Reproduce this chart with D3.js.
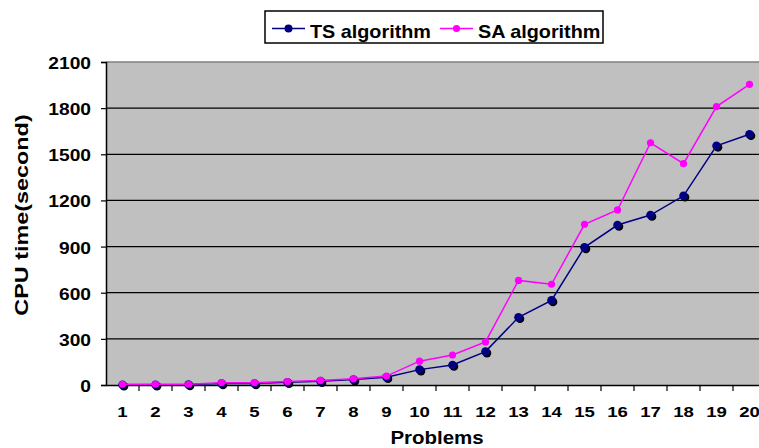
<!DOCTYPE html>
<html><head><meta charset="utf-8">
<script src="https://cdn.jsdelivr.net/npm/d3@7"></script>
<style>body{margin:0;background:#fff}svg{display:block;font-family:"Liberation Sans",Arial,sans-serif;font-weight:bold}</style>
</head><body>
<svg id="c" width="759" height="448"></svg>
<script>
const problems = ["1","2","3","4","5","6","7","8","9","10","11","12","13","14","15","16","17","18","19","20"];
const tsValues = [2,2,3,10,10,18,25,35,50,100,130,217,440,550,895,1040,1105,1230,1555,1630];
const saValues = [5,5,5,15,15,22,30,40,58,155,195,280,680,655,1045,1138,1575,1439,1810,1955];
const yTicks = [0,300,600,900,1200,1500,1800,2100];
const seriesNames = ["TS algorithm","SA algorithm"];

const svg = d3.select("#c");
const L=106,R=766,T=62,B=385;
const x = d3.scaleBand().domain(problems).range([L,R]);
const y = d3.scaleLinear().domain([0,2100]).range([B,T]);

svg.append("rect").attr("x",L).attr("y",T).attr("width",R-L).attr("height",B-T).attr("fill","#c0c0c0");
// gridlines
svg.append("g").selectAll("line").data(yTicks.slice(1,-1)).join("line")
  .attr("x1",L).attr("x2",R).attr("y1",d=>y(d)).attr("y2",d=>y(d)).attr("stroke","#000").attr("stroke-width",1.2);
svg.append("line").attr("x1",L).attr("x2",R).attr("y1",T).attr("y2",T).attr("stroke","#808080").attr("stroke-width",1.5);

// y axis
const ya = svg.append("g").attr("transform",`translate(${L},0)`)
  .call(d3.axisLeft(y).tickValues(yTicks).tickSize(5).tickPadding(0).tickFormat(d3.format("d")));
ya.select(".domain").attr("stroke","#000").attr("stroke-width",1.5);
ya.selectAll(".tick line").attr("stroke","#000").attr("stroke-width",1.2);
ya.selectAll(".tick text").attr("font-size",16).attr("font-family",null).attr("fill","#000")
  .attr("x",null).attr("dy",null).attr("dominant-baseline","central").attr("text-anchor","end")
  .attr("transform","translate(-15,1) scale(1.2,1)");

// x axis
const xa = svg.append("g").attr("transform",`translate(0,${B})`)
  .call(d3.axisBottom(x).tickSize(0).tickPadding(0));
xa.select(".domain").attr("stroke","#000").attr("stroke-width",1.5);
xa.selectAll(".tick text").attr("font-size",15.5).attr("font-family",null).attr("fill","#000")
  .attr("y",null).attr("dy",null).attr("transform","translate(0,32) scale(1.2,1)");
svg.append("g").selectAll("line").data(problems.slice(1)).join("line")
  .attr("x1",d=>x(d)).attr("x2",d=>x(d)).attr("y1",B).attr("y2",B+6).attr("stroke","#000").attr("stroke-width",1.2);

const cx = d=>x(d)+x.bandwidth()/2;
const line = d3.line().x((d,i)=>cx(problems[i])).y(d=>y(d));

// TS series
svg.append("path").datum(tsValues).attr("d",line).attr("fill","none").attr("stroke","#000080").attr("stroke-width",1.5);
const tsG = svg.append("g");
tsG.selectAll("circle.s").data(tsValues).join("circle").attr("class","s")
  .attr("cx",(d,i)=>cx(problems[i])+1.5).attr("cy",d=>y(d)+1.5).attr("r",4.3).attr("fill","#000");
tsG.selectAll("circle.m").data(tsValues).join("circle").attr("class","m")
  .attr("cx",(d,i)=>cx(problems[i])).attr("cy",d=>y(d)).attr("r",4.3).attr("fill","#000080");
// SA series
svg.append("path").datum(saValues).attr("d",line).attr("fill","none").attr("stroke","#ff00ff").attr("stroke-width",1.5);
svg.append("g").selectAll("circle").data(saValues).join("circle")
  .attr("cx",(d,i)=>cx(problems[i])).attr("cy",d=>y(d)).attr("r",3.6).attr("fill","#ff00ff");

// axis titles
svg.append("text").attr("transform","translate(437,444) scale(1.17,1)").attr("text-anchor","middle")
  .attr("font-size",17.5).text("Problems");
svg.append("text").attr("transform","translate(28,215) rotate(-90) scale(1.3,1)").attr("text-anchor","middle")
  .attr("font-size",18).text("CPU time(second)");

// legend
const lg = svg.append("g");
lg.append("rect").attr("x",265).attr("y",11).attr("width",338).attr("height",32).attr("fill","#fff").attr("stroke","#000").attr("stroke-width",1.5);
const items = [{name:seriesNames[0],c:"#000080",x0:272,tx:310,r:4},{name:seriesNames[1],c:"#ff00ff",x0:440,tx:478,r:3.6}];
items.forEach(it=>{
  lg.append("line").attr("x1",it.x0).attr("x2",it.x0+33).attr("y1",28.5).attr("y2",28.5).attr("stroke",it.c).attr("stroke-width",1.5);
  lg.append("circle").attr("cx",it.x0+16.5).attr("cy",28.5).attr("r",it.r).attr("fill",it.c);
  lg.append("text").attr("transform",`translate(${it.tx},37.5) scale(1.1,1)`).attr("font-size",18).text(it.name);
});
</script>
</body></html>
